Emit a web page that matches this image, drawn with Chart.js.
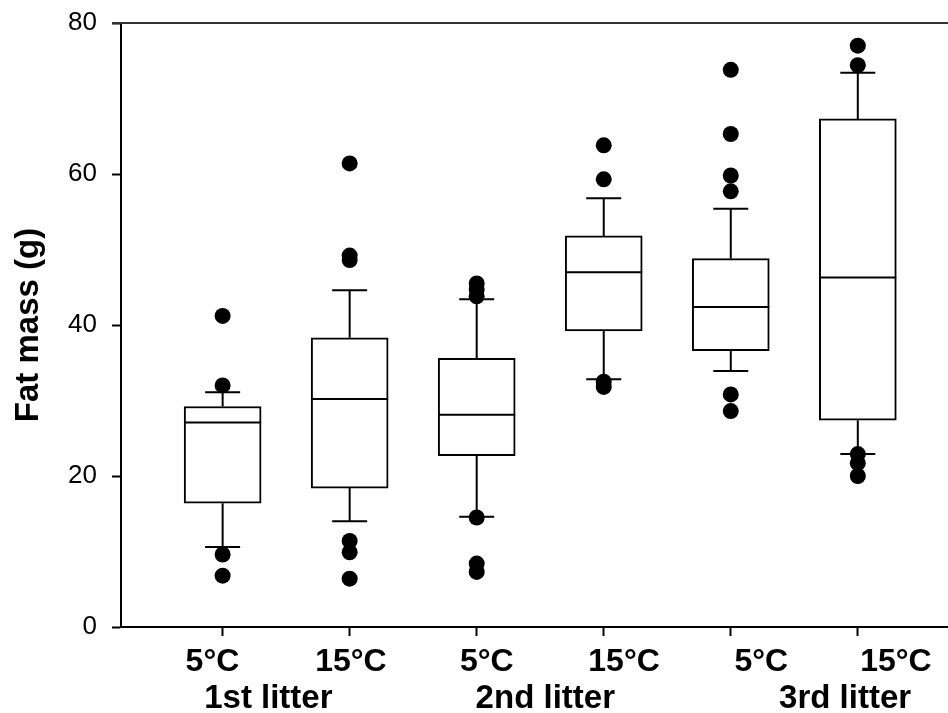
<!DOCTYPE html>
<html>
<head>
<meta charset="utf-8">
<script src="https://cdn.jsdelivr.net/npm/chart.js@4.4.1/dist/chart.umd.min.js"></script>
<style>
  html, body { margin: 0; padding: 0; background: #fff; }
  #wrap { width: 948px; height: 713px; }
</style>
</head>
<body>
<div id="wrap"><canvas id="fat"></canvas></div>
<script>
// box positions on the x axis (one per group)
const positions = [1, 2, 3, 4, 5, 6];
const tempLabels = ["5°C", "15°C", "5°C", "15°C", "5°C", "15°C"];
const litters = ["1st litter", "2nd litter", "3rd litter"];

// box plot values, fat mass in g
const whiskerLow = [10.6, 14.0, 14.6, 32.8, 33.9, 22.9];
const q1 = [16.4, 18.4, 22.7, 39.2, 36.6, 27.4];
const median = [27.1, 30.2, 28.1, 47.0, 42.4, 46.3];
const q3 = [29.2, 38.3, 35.6, 51.8, 48.8, 67.3];
const whiskerHigh = [31.1, 44.6, 43.4, 56.8, 55.4, 73.4];
const outliers = [
  [41.2, 32.0, 9.6, 6.8],
  [61.4, 49.2, 48.6, 11.4, 9.9, 6.4],
  [45.5, 44.7, 43.8, 14.5, 8.4, 7.3],
  [63.8, 59.3, 32.5, 31.8],
  [73.8, 65.3, 59.8, 57.7, 30.8, 28.6],
  [77.0, 74.4, 22.9, 21.7, 20.0]
];
const yTicks = [0, 20, 40, 60, 80];

// where the labels sit under the axis (they are not centred on the ticks in the original)
const tempLabelX = [0.92, 2.01, 3.08, 4.16, 5.24, 6.3];
const litterX = [1.36, 3.54, 5.9];

const FONT = "'Liberation Sans', Arial, sans-serif";
const CAP = 35; // whisker cap width, px

const noPad = s => { s.paddingTop = 0; s.paddingBottom = 0; s.paddingLeft = 0; s.paddingRight = 0; };

const boxExtras = {
  id: "boxExtras",
  afterDatasetDraw(chart, args) {
    if (args.index !== 0) return;
    const { ctx } = chart;
    const x = chart.scales.x, y = chart.scales.y;
    ctx.save();
    ctx.strokeStyle = "#000";
    ctx.lineWidth = 2;
    positions.forEach((p, i) => {
      const px = x.getPixelForValue(p);
      const bar = chart.getDatasetMeta(0).data[i];
      const half = bar.width / 2;
      ctx.beginPath();
      // median
      ctx.moveTo(px - half, y.getPixelForValue(median[i]));
      ctx.lineTo(px + half, y.getPixelForValue(median[i]));
      // whiskers
      ctx.moveTo(px, y.getPixelForValue(q3[i]));
      ctx.lineTo(px, y.getPixelForValue(whiskerHigh[i]));
      ctx.moveTo(px, y.getPixelForValue(q1[i]));
      ctx.lineTo(px, y.getPixelForValue(whiskerLow[i]));
      // caps
      ctx.moveTo(px - CAP / 2, y.getPixelForValue(whiskerHigh[i]));
      ctx.lineTo(px + CAP / 2, y.getPixelForValue(whiskerHigh[i]));
      ctx.moveTo(px - CAP / 2, y.getPixelForValue(whiskerLow[i]));
      ctx.lineTo(px + CAP / 2, y.getPixelForValue(whiskerLow[i]));
      ctx.stroke();
    });
    ctx.restore();
  },
  afterDraw(chart) {
    const { ctx, chartArea } = chart;
    const x = chart.scales.x;
    ctx.save();
    // top frame line
    ctx.strokeStyle = "#333";
    ctx.lineWidth = 2;
    ctx.beginPath();
    ctx.moveTo(chartArea.left - 9, chartArea.top);
    ctx.lineTo(chartArea.right, chartArea.top);
    ctx.stroke();
    // category labels
    ctx.fillStyle = "#000";
    ctx.textAlign = "center";
    ctx.textBaseline = "alphabetic";
    ctx.font = "bold 32px " + FONT;
    tempLabels.forEach((t, i) => ctx.fillText(t, x.getPixelForValue(tempLabelX[i]), 671));
    ctx.font = "bold 33px " + FONT;
    litters.forEach((t, i) => ctx.fillText(t, x.getPixelForValue(litterX[i]), 708));
    ctx.restore();
  }
};

const outlierPoints = [];
outliers.forEach((vals, i) => vals.forEach(v => outlierPoints.push({ x: positions[i], y: v })));

new Chart(document.getElementById("fat"), {
  type: "bar",
  data: {
    datasets: [
      {
        type: "bar",
        data: positions.map((p, i) => ({ x: p, y: [q1[i], q3[i]] })),
        backgroundColor: "#fff",
        borderColor: "#000",
        borderWidth: 2,
        borderSkipped: false,
        barThickness: 77,
        order: 1
      },
      {
        type: "scatter",
        data: outlierPoints,
        pointRadius: 8,
        pointBackgroundColor: "#000",
        pointBorderWidth: 0,
        order: 0
      }
    ]
  },
  options: {
    responsive: true,
    maintainAspectRatio: false,
    animation: false,
    layout: { autoPadding: false, padding: { top: 23, right: 0, left: 0, bottom: 0 } },
    plugins: {
      legend: { display: false },
      tooltip: { enabled: false }
    },
    scales: {
      x: {
        type: "linear",
        min: 0.2,
        max: 6.71,
        offset: false,
        afterBuildTicks: s => { s.ticks = positions.map(v => ({ value: v })); },
        afterFit: s => { s.height = 86; noPad(s); },
        ticks: { display: false },
        grid: {
          drawOnChartArea: false,
          offset: false,
          tickLength: 9,
          tickWidth: 2,
          tickColor: "#000"
        },
        border: { display: true, color: "#000", width: 2 }
      },
      y: {
        min: 0,
        max: 80,
        afterBuildTicks: s => { s.ticks = yTicks.map(v => ({ value: v })); },
        afterFit: s => { s.width = 121; noPad(s); },
        ticks: {
          color: "#000",
          padding: 15,
          font: { family: FONT, size: 26 }
        },
        grid: {
          drawOnChartArea: false,
          tickLength: 9,
          tickWidth: 2,
          tickColor: "#000"
        },
        border: { display: true, color: "#000", width: 2 },
        title: {
          display: true,
          text: "Fat mass (g)",
          color: "#000",
          font: { family: FONT, size: 33, weight: "bold" },
          padding: { top: 9, bottom: 0 }
        }
      }
    }
  },
  plugins: [boxExtras]
});
</script>
</body>
</html>
